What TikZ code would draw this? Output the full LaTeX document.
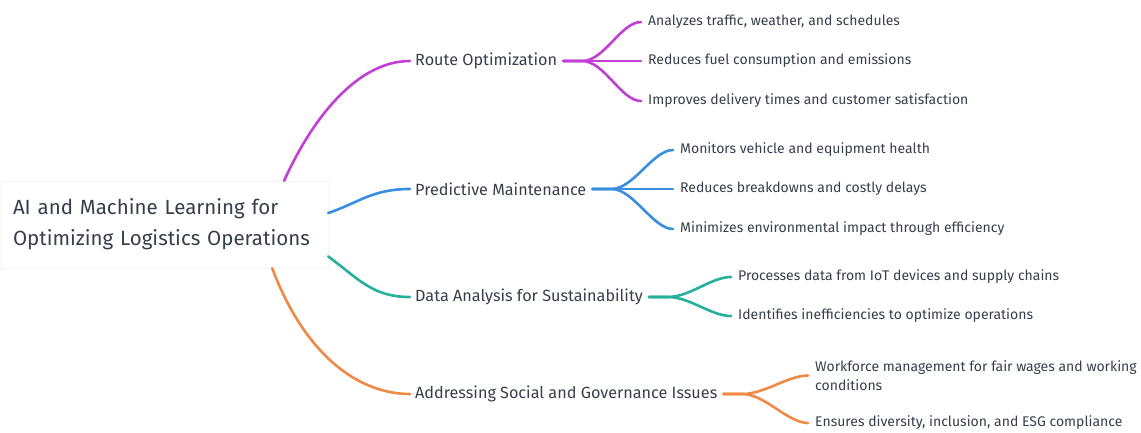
\documentclass[tikz,border=0pt]{standalone}
\usepackage{fontspec}
\setmainfont{Fira Sans}
\usepackage{xcolor}
\usepackage{tikz}
\usetikzlibrary{shapes,arrows,positioning,calc}
\definecolor{mmtext}{HTML}{373F4C}
\definecolor{mmpurple}{HTML}{C23FD5}
\definecolor{mmblue}{HTML}{3A8EDF}
\definecolor{mmteal}{HTML}{25B09B}
\definecolor{mmorange}{HTML}{EE8A45}
\tikzset{
    rootbox/.style={draw=black!4, fill=white, inner xsep=13pt, minimum width=328pt,
        minimum height=87pt, text width=302pt, align=left, text=mmtext,
        font=\fontsize{20.5}{31}\selectfont},
    topicbox/.style={anchor=west, inner sep=3pt, text=mmtext, font=\fontsize{16.2}{18}\selectfont},
    leafbox/.style={anchor=west, inner sep=3pt, text=mmtext, align=left,
        font=\fontsize{14}{19}\selectfont},
    branch/.style={line width=2.6pt, line cap=round}
}

\begin{document}
\begin{tikzpicture}[x=1pt, y=-1pt]
        \useasboundingbox (0,0) rectangle (1141,432);

        % centre
        \node[rootbox] (root) at (164,224.5) {AI and Machine Learning for\\Optimizing Logistics Operations};

        % main topics
        \node[topicbox] (route) at (412,61)  {Route Optimization};
        \node[topicbox] (pred)  at (412,189) {Predictive Maintenance};
        \node[topicbox] (data)  at (412,297) {Data Analysis for Sustainability};
        \node[topicbox] (addr)  at (412,394) {Addressing Social and Governance Issues};

        % details
        \node[leafbox] (r1) at (645,22)  {Analyzes traffic, weather, and schedules};
        \node[leafbox] (r2) at (645,61)  {Reduces fuel consumption and emissions};
        \node[leafbox] (r3) at (645,101) {Improves delivery times and customer satisfaction};
        \node[leafbox] (p1) at (677,150) {Monitors vehicle and equipment health};
        \node[leafbox] (p2) at (677,189) {Reduces breakdowns and costly delays};
        \node[leafbox] (p3) at (677,229) {Minimizes environmental impact through efficiency};
        \node[leafbox] (d1) at (735,277) {Processes data from IoT devices and supply chains};
        \node[leafbox] (d2) at (735,316) {Identifies inefficiencies to optimize operations};
        \node[leafbox] (a1) at (812,375.5) {Workforce management for fair wages and working\\conditions};
        \node[leafbox] (a2) at (812,423) {Ensures diversity, inclusion, and ESG compliance};

        % centre to topics
        \draw[branch, mmpurple, shorten >=2pt] (root.20) .. controls +(28,-62) and +(-55,0) .. (route.west);
        \draw[branch, mmblue, shorten >=2pt]   (root.4) .. controls +(30,-10) and +(-40,0) .. (pred.west);
        \draw[branch, mmteal, shorten >=2pt]   (root.-11.5) .. controls +(30,22) and +(-40,0) .. (data.west);
        \draw[branch, mmorange, shorten >=2pt] (root.-22) .. controls +(32,85) and +(-55,0) .. (addr.west);

        % topics to details
        \foreach \leaf in {r1,r2,r3}
            \draw[branch, mmpurple, shorten <=3pt, shorten >=4pt] (route.east) -- ++(22,0) .. controls +(22,0) and +(-24,0) .. (\leaf.west);
        \foreach \leaf in {p1,p2,p3}
            \draw[branch, mmblue, shorten <=3pt, shorten >=4pt] (pred.east) -- ++(22,0) .. controls +(22,0) and +(-24,0) .. (\leaf.west);
        \foreach \leaf in {d1,d2}
            \draw[branch, mmteal, shorten <=3pt, shorten >=4pt] (data.east) -- ++(22,0) .. controls +(22,0) and +(-24,0) .. (\leaf.west);
        \foreach \leaf in {a1,a2}
            \draw[branch, mmorange, shorten <=3pt, shorten >=4pt] (addr.east) -- ++(22,0) .. controls +(22,0) and +(-24,0) .. (\leaf.west);
    \end{tikzpicture}
\end{document}
